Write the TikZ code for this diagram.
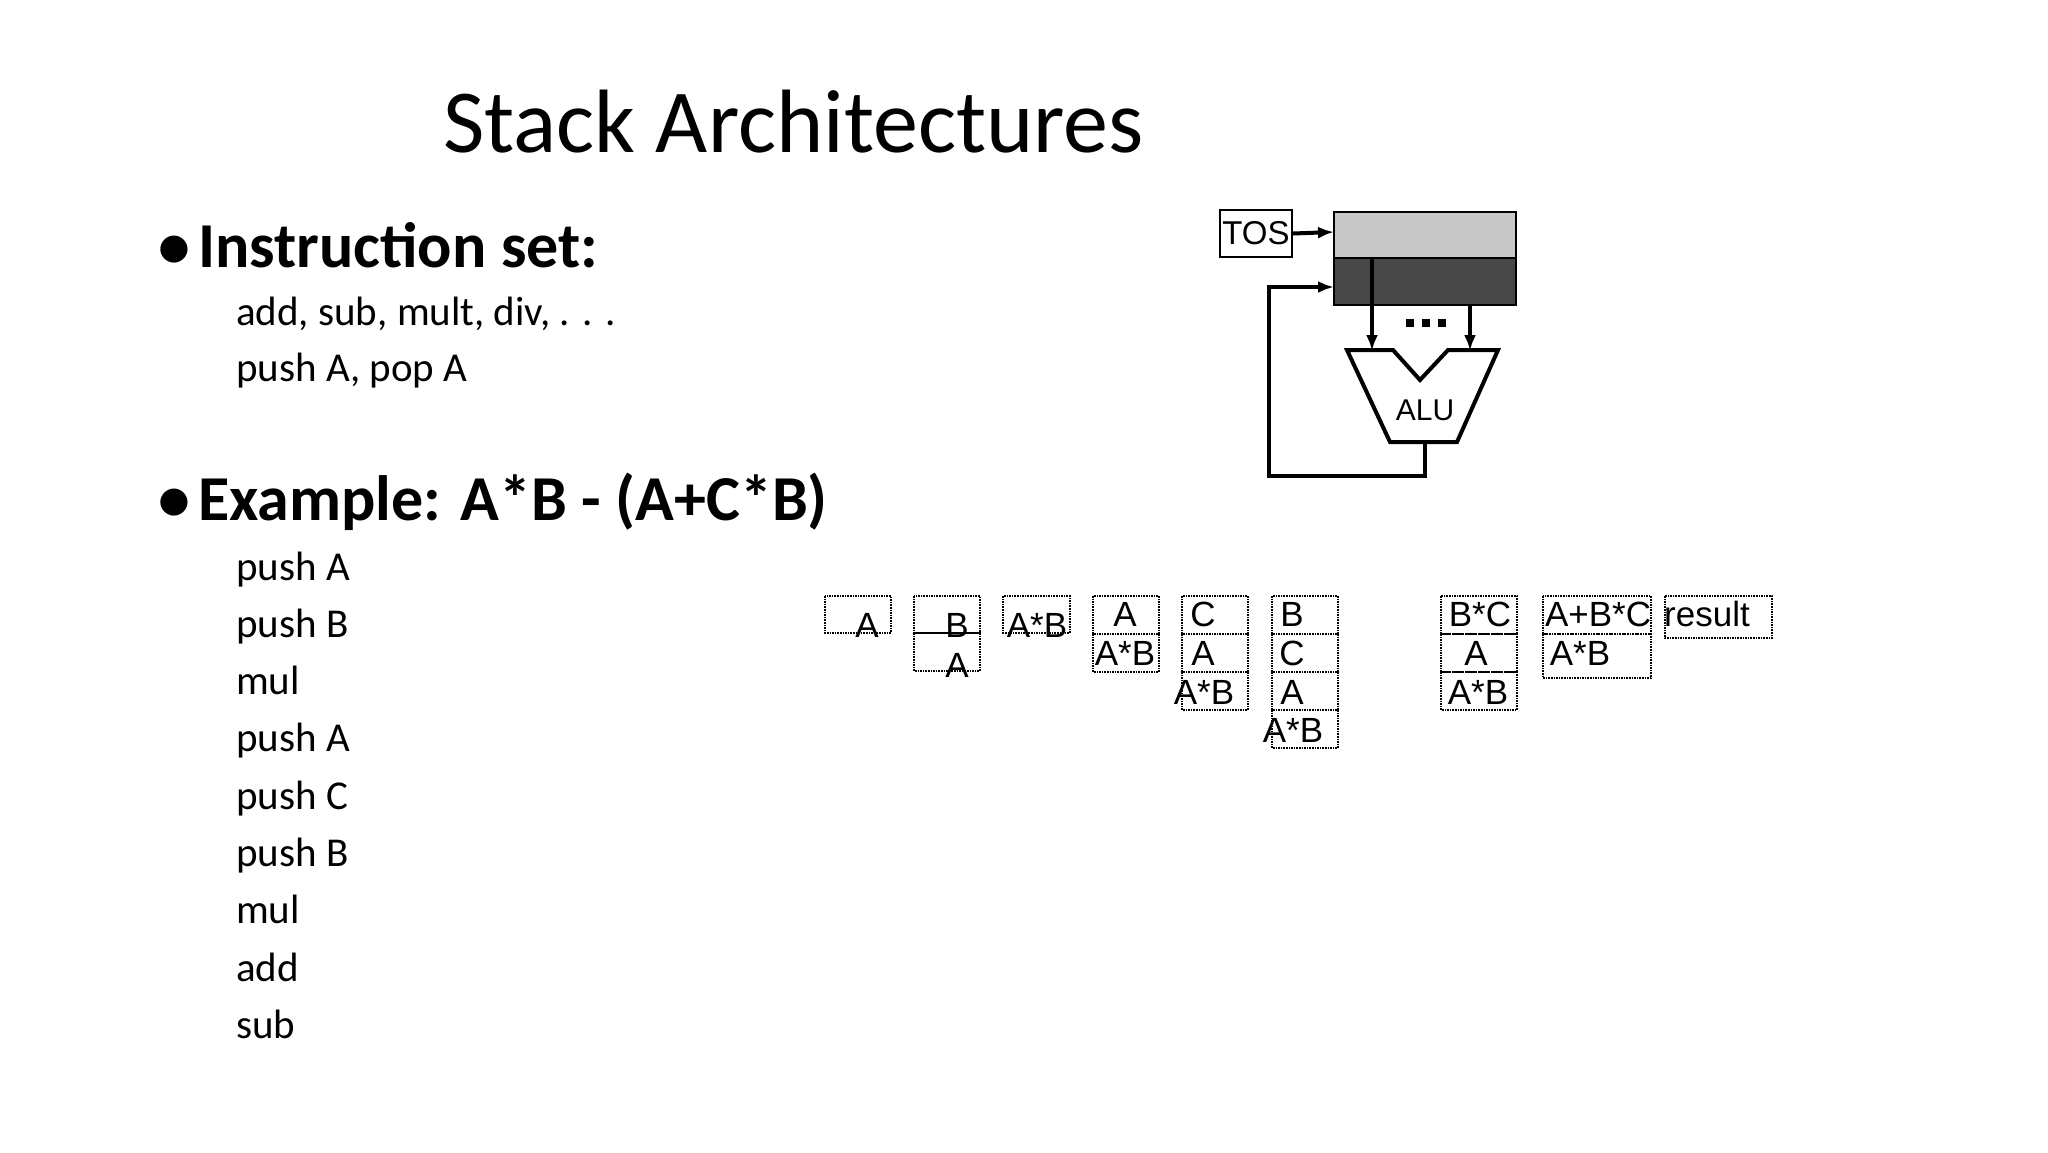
\documentclass[tikz,border=0pt]{standalone}
\usepackage{fontspec}
\setmainfont{Carlito}
\newfontfamily\arial{Liberation Sans}
\usetikzlibrary{arrows.meta}
\begin{document}
\begin{tikzpicture}[x=1pt,y=-1pt,
  line/.style={line width=4pt},
  arr/.style={line width=4pt,-{Latex[length=16pt,width=12pt]}},
  cell/.style={draw,densely dotted,line width=1.6pt},
  st/.style={font=\arial\fontsize{35}{35}\selectfont,inner sep=0pt},
  sub/.style={anchor=base west,inner sep=0pt,font=\fontsize{41}{41}\selectfont},
  head/.style={anchor=base west,inner sep=0pt,font=\bfseries\fontsize{64}{64}\selectfont}]
\useasboundingbox[fill=white] (0,0) rectangle (2048,1152);
\node[anchor=base west,inner sep=0pt,font=\fontsize{90}{90}\selectfont] (title) at (443,152) {Stack Architectures};
\node[head] (b1) at (158,267) {•};
\node[head] (h1) at (198,267) {Instruction set:};
\node[sub] (i1) at (236,325) {add, sub, mult, div, . . .};
\node[sub] (i2) at (236,381) {push A, pop A};
\node[head] (b2) at (158,520) {•};
\node[head] (h2) at (198,520) {Example: A*B - (A+C*B)};
\foreach \t [count=\i] in {push A,push B,mul,push A,push C,push B,mul,add,sub}
  \node[sub] (e\i) at (236,{580+57.3*(\i-1)}) {\t};
% ALU diagram
\node[draw,line width=2pt,minimum width=72pt,minimum height=47pt,inner sep=0pt,font=\arial\fontsize{33}{33}\selectfont] (tos) at (1256,233.5) {TOS};
\fill[black!22] (1334,212) rectangle (1516,258);
\fill[black!72] (1334,258) rectangle (1516,305);
\draw[line width=2.5pt] (1334,212) rectangle (1516,305);
\draw[line width=2pt] (1334,258) -- (1516,258);
\coordinate (top) at (1334,232);
\coordinate (mid) at (1334,287);
\draw[arr] (tos.east) -- (top);
\draw[arr] (1372,258) -- (1372,351);
\draw[arr] (1470,305) -- (1470,351);
\foreach \xx in {1410,1426,1442} \fill (\xx-4,319) rectangle (\xx+4,327);
\draw[line width=4pt,line join=miter,fill=white] (1347,350) -- (1393,350) -- (1420,380) -- (1448,350) -- (1498,350) -- (1457,442) -- (1390,442) -- cycle;
\node[font=\arial\fontsize{30}{30}\selectfont] (alu) at (1425,410) {ALU};
\draw[arr] (1425,442) -- (1425,476) -- (1269,476) -- (1269,287) -- (mid);
% stacks
\draw[cell] (825,596) rectangle (891,633);
\draw[cell] (914,596) rectangle (980,633); \draw[cell] (914,633) rectangle (980,671);
\draw[cell] (1003,596) rectangle (1070,633);
\foreach \k in {0,1} \draw[cell] (1093,596+38*\k) rectangle (1159,634+38*\k);
\foreach \k in {0,1,2} \draw[cell] (1182,596+38*\k) rectangle (1248,634+38*\k);
\foreach \k in {0,1,2,3} \draw[cell] (1272,596+38*\k) rectangle (1338,634+38*\k);
\foreach \k in {0,1,2} \draw[cell] (1441,596+38*\k) rectangle (1517,634+38*\k);
\draw[cell] (1543,596) rectangle (1651,634); \draw[cell] (1543,634) rectangle (1651,678);
\draw[cell] (1665,596) rectangle (1772,638);
\node[st] (s1a) at (867,625) {A};
\node[st] (s2a) at (957,625) {B};
\node[st] (s2b) at (957,665) {A};
\node[st] (s3a) at (1037,625) {A*B};
\node[st] (s4a) at (1125,614) {A};
\node[st] (s4b) at (1125,653) {A*B};
\node[st] (s5a) at (1203,614) {C};
\node[st] (s5b) at (1203,653) {A};
\node[st] (s5c) at (1204,692) {A*B};
\node[st] (s6a) at (1292,614) {B};
\node[st] (s6b) at (1292,653) {C};
\node[st] (s6c) at (1292,692) {A};
\node[st] (s6d) at (1293,730) {A*B};
\node[st] (s7a) at (1480,614) {B*C};
\node[st] (s7b) at (1476,653) {A};
\node[st] (s7c) at (1478,692) {A*B};
\node[st] (s8a) at (1598,614) {A+B*C};
\node[st] (s8b) at (1580,653) {A*B};
\node[st] (s9a) at (1707,614) {result};
\end{tikzpicture}
\end{document}
